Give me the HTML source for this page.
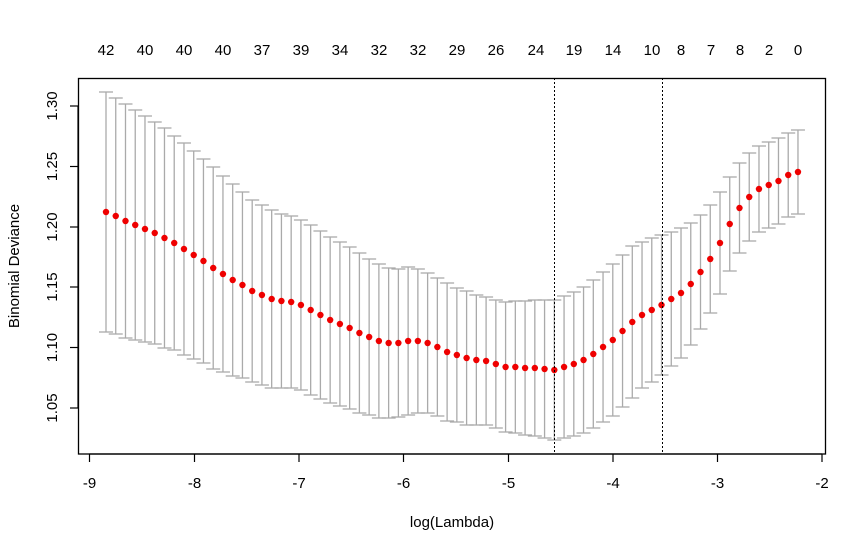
<!DOCTYPE html>
<html><head><meta charset="utf-8"><style>body{margin:0;background:#fff}svg{display:block}text{font-family:"Liberation Sans",Arial,sans-serif;font-size:15px;fill:#000}</style></head>
<body>
<svg id="s" width="866" height="552" xmlns="http://www.w3.org/2000/svg">
<rect x="0" y="0" width="866" height="552" fill="#fff"/>
<g id="bars" stroke="#aaaaaa" stroke-width="1.3"></g>
<g id="pts" fill="#ee0000"></g>
<line x1="554.5" y1="78" x2="554.5" y2="454" stroke="#000" stroke-dasharray="2,2"/>
<line x1="662.5" y1="78" x2="662.5" y2="454" stroke="#000" stroke-dasharray="2,2"/>
<rect x="78.5" y="78.5" width="747" height="375.5" fill="none" stroke="#000" stroke-width="1.3"/>
<g stroke="#000" stroke-width="1.2">
<line x1="89.5" y1="454" x2="822" y2="454"/>
<line x1="89.5" y1="454" x2="89.5" y2="462"/><line x1="194.5" y1="454" x2="194.5" y2="462"/><line x1="299" y1="454" x2="299" y2="462"/><line x1="403.5" y1="454" x2="403.5" y2="462"/><line x1="508.5" y1="454" x2="508.5" y2="462"/><line x1="613" y1="454" x2="613" y2="462"/><line x1="717.5" y1="454" x2="717.5" y2="462"/><line x1="822" y1="454" x2="822" y2="462"/>
<line x1="78" y1="106" x2="78" y2="408"/>
<line x1="70" y1="106" x2="78" y2="106"/><line x1="70" y1="166.5" x2="78" y2="166.5"/><line x1="70" y1="227" x2="78" y2="227"/><line x1="70" y1="287" x2="78" y2="287"/><line x1="70" y1="347.5" x2="78" y2="347.5"/><line x1="70" y1="408" x2="78" y2="408"/>
</g>
<g text-anchor="middle">
<text x="89.5" y="488">-9</text><text x="194.5" y="488">-8</text><text x="299" y="488">-7</text><text x="403.5" y="488">-6</text><text x="508.5" y="488">-5</text><text x="613" y="488">-4</text><text x="717.5" y="488">-3</text><text x="822" y="488">-2</text>
<text x="452" y="527">log(Lambda)</text>
<text transform="translate(57,106) rotate(-90)">1.30</text>
<text transform="translate(57,166.5) rotate(-90)">1.25</text>
<text transform="translate(57,227) rotate(-90)">1.20</text>
<text transform="translate(57,287) rotate(-90)">1.15</text>
<text transform="translate(57,347.5) rotate(-90)">1.10</text>
<text transform="translate(57,408) rotate(-90)">1.05</text>
<text transform="translate(19,266) rotate(-90)">Binomial Deviance</text>
<text x="106" y="55">42</text><text x="145" y="55">40</text><text x="184" y="55">40</text><text x="223" y="55">40</text><text x="262" y="55">37</text><text x="301" y="55">39</text><text x="340" y="55">34</text><text x="379" y="55">32</text><text x="418" y="55">32</text><text x="457" y="55">29</text><text x="496" y="55">26</text><text x="536" y="55">24</text><text x="574" y="55">19</text><text x="613" y="55">14</text><text x="652" y="55">10</text><text x="681" y="55">8</text><text x="711" y="55">7</text><text x="740" y="55">8</text><text x="769" y="55">2</text><text x="798" y="55">0</text>
</g>
</svg>
<script>
var m=[212,216,221,225,229,233,238,243,249,255,261,268,274,280,285,291,295,299,301,302,305,310,315,320,324,328,333,337,341,343,
343,341,341,343,347,352,355,358,360,361,364,367,367,368,368,369,370,
367,364,360,354,347,340,331,322,315,310,305,299,
293,284,272,259,243,224,208,197,189,185,181,175,172];
var u=[92,98,104,110,116,122,128,136,143,151,159,167,176,184,192,200,205,210,214,216,220,225,231,237,242,247,253,259,264,268,
269,267,269,273,278,283,288,291,295,297,300,302,301,301,300,300,300,
296,292,287,280,272,264,255,246,242,238,235,232,
228,223,215,205,192,177,163,153,146,142,138,133,130];
var NS="http://www.w3.org/2000/svg",b=document.getElementById("bars"),p=document.getElementById("pts");
function L(x1,y1,x2,y2){var l=document.createElementNS(NS,"line");l.setAttribute("x1",x1);l.setAttribute("y1",y1);l.setAttribute("x2",x2);l.setAttribute("y2",y2);b.appendChild(l);}
for(var i=0;i<72;i++){var x=106+i*9.746,lo=2*m[i]-u[i];
L(x,u[i],x,lo);L(x-7,u[i],x+7,u[i]);L(x-7,lo,x+7,lo);
var c=document.createElementNS(NS,"circle");c.setAttribute("cx",x);c.setAttribute("cy",m[i]);c.setAttribute("r",3.2);p.appendChild(c);}
</script>
</body></html>
